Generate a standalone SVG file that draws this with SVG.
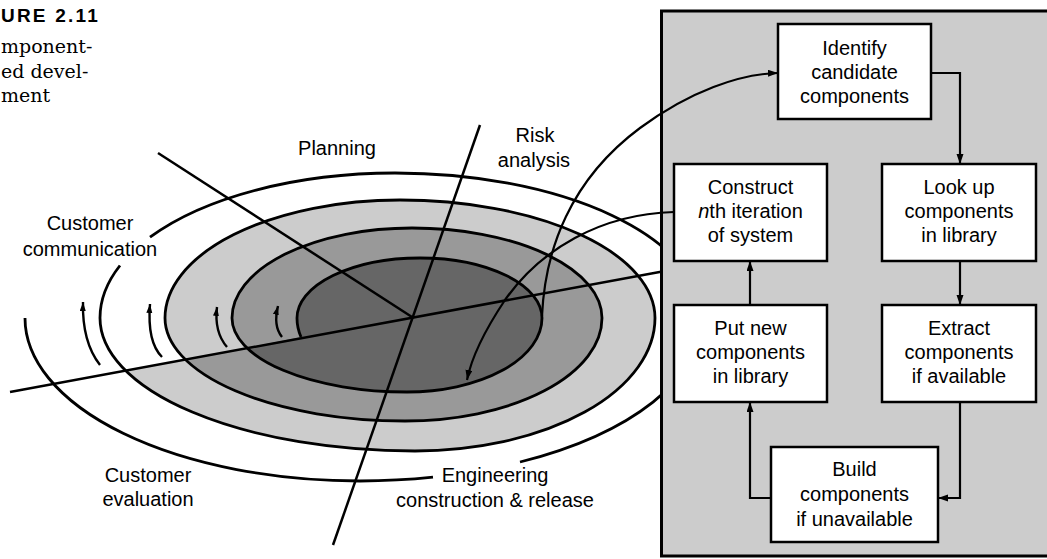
<svg xmlns="http://www.w3.org/2000/svg" width="1047" height="559" viewBox="0 0 1047 559">
<style>
  text { font-family: "Liberation Sans", Arial, sans-serif; font-size: 20px; fill: #000; }
  .lbl { text-anchor: middle; }
  .cap { font-family: "DejaVu Serif", "Liberation Serif", serif; font-size: 19px; }
  .fig { font-family: "Liberation Sans", Arial, sans-serif; font-weight: 900; font-size: 19px; letter-spacing: 2.2px; }
  .curve { fill: none; stroke: #000; stroke-width: 2.8; }
  .radial { fill: none; stroke: #000; stroke-width: 2.5; }
  .box { fill: #fff; stroke: #000; stroke-width: 2.5; }
  .conn { fill: none; stroke: #000; stroke-width: 2.2; }
  .small { fill: none; stroke: #000; stroke-width: 2.4; }
</style>
<defs>
  <marker id="ah" markerUnits="userSpaceOnUse" markerWidth="11" markerHeight="8" refX="10" refY="3.5" orient="auto">
    <path d="M0,0 L10,3.5 L0,7 z" fill="#000"/>
  </marker>
  <marker id="ahs" markerUnits="userSpaceOnUse" markerWidth="10" markerHeight="8" refX="9" refY="3" orient="auto">
    <path d="M0,0 L9,3 L0,6 z" fill="#000"/>
  </marker>
</defs>

<!-- caption -->
<g id="caption">
  <text class="fig" x="1" y="22">URE 2.11</text>
  <text class="cap" x="1" y="53">mponent-</text>
  <text class="cap" x="1" y="78">ed devel-</text>
  <text class="cap" x="1" y="102">ment</text>
</g>

<!-- spiral fills and curves -->
<g id="spiral">
  <path fill="#cccccc" d="M186,360 A240,103 0 0 1 165,318 A235,118 0 0 1 400,200 A255,118 0 0 1 655,318 A240,133 0 0 1 415,451 A315,133 0 0 1 126,370.7 Z"/>
  <path fill="#999999" d="M247,348 A175,74 0 0 1 232,318 A180,90 0 0 1 412,228 A190,90 0 0 1 602,318 A197,103 0 0 1 405,421 A240,103 0 0 1 186,360 Z"/>
  <path fill="#666666" d="M301,337 A123,74 0 0 1 297,318 A123,60 0 0 1 420,258 A122,60 0 0 1 542,318 A135,74 0 0 1 407,392 A175,74 0 0 1 247,348 Z"/>
  <path class="curve" d="M301,337 A123,74 0 0 1 297,318 A123,60 0 0 1 420,258 A122,60 0 0 1 542,318 A135,74 0 0 1 407,392 A175,74 0 0 1 232,318 A180,90 0 0 1 412,228 A190,90 0 0 1 602,318 A197,103 0 0 1 405,421 A240,103 0 0 1 165,318 A235,118 0 0 1 400,200 A255,118 0 0 1 655,318 A240,133 0 0 1 415,451 A315,133 0 0 1 100,318 A295,145 0 0 1 120,265.5 M150,237.2 A295,145 0 0 1 395,173 A307,145 0 0 1 702,318 A342,163 0 0 1 520,462 M433,477.2 A342,163 0 0 1 360,481 A335,163 0 0 1 25,318"/>
  <path class="radial" d="M10,392 L665,271"/>
  <path class="radial" d="M158,153 L412,317"/>
  <path class="radial" d="M480,125 L333,545"/>
  <path class="small" marker-end="url(#ahs)" d="M100,365 Q82,342 83,302"/>
  <path class="small" marker-end="url(#ahs)" d="M162,357 Q147,342 150,304"/>
  <path class="small" marker-end="url(#ahs)" d="M227,347 Q214,332 217,307"/>
  <path class="small" marker-end="url(#ahs)" d="M282,337 Q273,326 278,306"/>
</g>

<!-- labels -->
<g id="labels">
  <text class="lbl" x="337" y="155">Planning</text>
  <text class="lbl" x="535" y="142">Risk</text>
  <text class="lbl" x="534" y="167">analysis</text>
  <text class="lbl" x="90" y="230">Customer</text>
  <text class="lbl" x="90" y="256">communication</text>
  <text class="lbl" x="148" y="482">Customer</text>
  <text class="lbl" x="148" y="506">evaluation</text>
  <text class="lbl" x="495" y="482">Engineering</text>
  <text class="lbl" x="495" y="507">construction &amp; release</text>
</g>

<!-- panel -->
<g id="panel">
  <rect x="661.5" y="11" width="400" height="545" fill="#cccccc" stroke="#000" stroke-width="3"/>
</g>

<g id="identify">
  <rect class="box" x="778" y="24" width="153" height="95"/>
  <text class="lbl" x="854.5" y="55">Identify</text>
  <text class="lbl" x="854.5" y="79">candidate</text>
  <text class="lbl" x="854.5" y="103">components</text>
</g>
<g id="construct">
  <rect class="box" x="674" y="164" width="153" height="97"/>
  <text class="lbl" x="750.5" y="194">Construct</text>
  <text class="lbl" x="750.5" y="218"><tspan font-style="italic">n</tspan>th iteration</text>
  <text class="lbl" x="750.5" y="242">of system</text>
</g>
<g id="lookup">
  <rect class="box" x="882" y="164" width="154" height="97"/>
  <text class="lbl" x="959" y="194">Look up</text>
  <text class="lbl" x="959" y="218">components</text>
  <text class="lbl" x="959" y="242">in library</text>
</g>
<g id="putnew">
  <rect class="box" x="674" y="305" width="153" height="97"/>
  <text class="lbl" x="750.5" y="335">Put new</text>
  <text class="lbl" x="750.5" y="359">components</text>
  <text class="lbl" x="750.5" y="383">in library</text>
</g>
<g id="extract">
  <rect class="box" x="882" y="305" width="154" height="97"/>
  <text class="lbl" x="959" y="335">Extract</text>
  <text class="lbl" x="959" y="359">components</text>
  <text class="lbl" x="959" y="383">if available</text>
</g>
<g id="build">
  <rect class="box" x="771" y="447" width="167" height="95"/>
  <text class="lbl" x="854.5" y="476">Build</text>
  <text class="lbl" x="854.5" y="501">components</text>
  <text class="lbl" x="854.5" y="526">if unavailable</text>
</g>

<!-- connectors -->
<g id="connectors">
  <path class="conn" marker-end="url(#ah)" d="M931,73 L960,73 L960,164"/>
  <path class="conn" marker-end="url(#ah)" d="M960,261 L960,305"/>
  <path class="conn" marker-end="url(#ah)" d="M960,402 L960,498 L938,498"/>
  <path class="conn" marker-end="url(#ah)" d="M771,498 L750,498 L750,402"/>
  <path class="conn" marker-end="url(#ah)" d="M750,305 L750,261"/>
  <path class="conn" marker-end="url(#ah)" d="M542,316 C545,250 570,180 640,128 C690,91 740,74 778,73"/>
  <path class="conn" marker-end="url(#ah)" d="M674,212 C600,214 540,250 505,300 C485,330 472,355 467,380"/>
</g>
</svg>
